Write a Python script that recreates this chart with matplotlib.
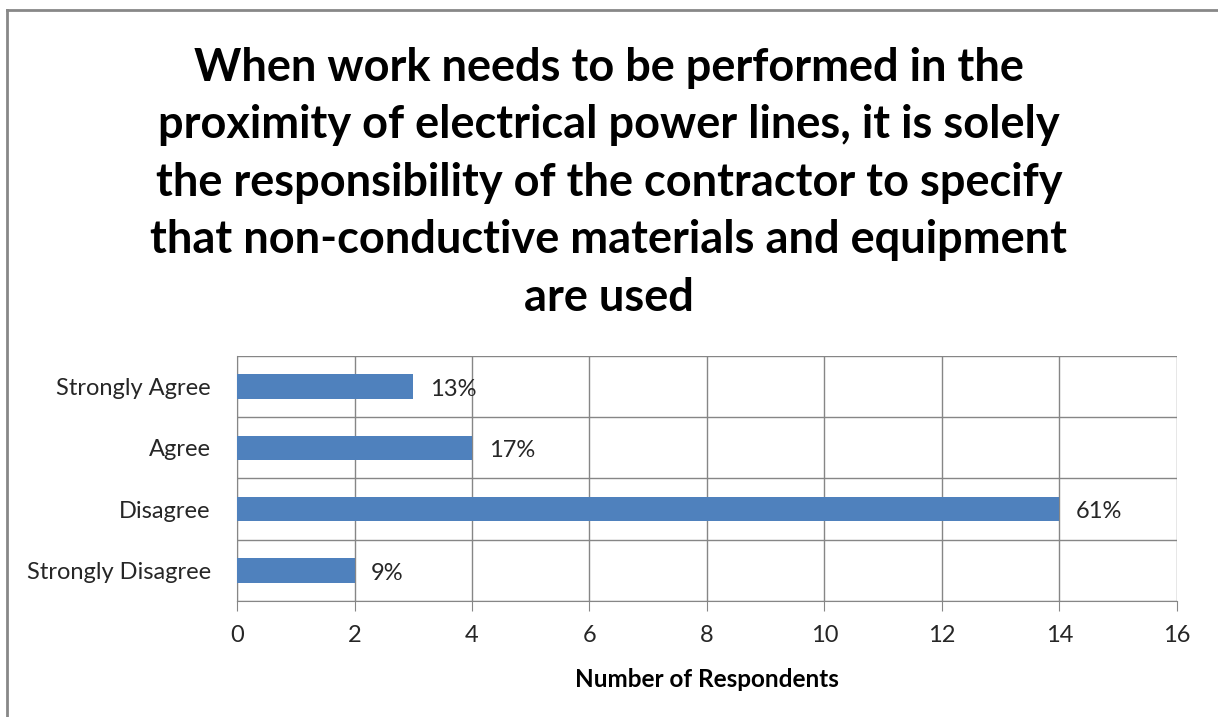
import matplotlib
matplotlib.use('Agg')
import matplotlib.pyplot as plt
from matplotlib.lines import Line2D

# survey answers, top to bottom as in the chart
categories = ['Strongly Agree', 'Agree', 'Disagree', 'Strongly Disagree']
counts = [3, 4, 14, 2]
pct_labels = ['13%', '17%', '61%', '9%']
xticks = [0, 2, 4, 6, 8, 10, 12, 14, 16]

title = ('When work needs to be performed in the\n'
         'proximity of electrical power lines, it is solely\n'
         'the responsibility of the contractor to specify\n'
         'that non-conductive materials and equipment\n'
         'are used')

plt.rcParams['font.family'] = ['Lato', 'DejaVu Sans']

fig = plt.figure(figsize=(12.18, 7.17), dpi=100)
ax = fig.add_axes([0.1946, 0.1618, 0.7717, 0.3417])

bar_col = '#4F81BD'
grid_col = '#868686'
pos = list(range(len(categories)))
ax.barh(pos, counts, height=0.4, color=bar_col, zorder=3)

# percent labels to the right of each bar
for p, c, lab in zip(pos, counts, pct_labels):
    ax.annotate(lab, (c, p), xytext=(12, -2), textcoords='offset points',
                ha='left', va='center', fontsize=17, color='#262626')

ax.set_xlim(0, 16)
ax.set_ylim(3.5, -0.5)
ax.set_xticks(xticks)
ax.set_yticks(pos)
ax.set_yticklabels(categories)
ax.set_yticks([-0.5, 0.5, 1.5, 2.5, 3.5], minor=True)
ax.grid(axis='x', color=grid_col, lw=1, zorder=0)
ax.grid(axis='y', which='minor', color=grid_col, lw=1, zorder=0)
ax.tick_params(axis='y', which='both', length=0, labelsize=17, labelcolor='#262626', pad=19)
ax.tick_params(axis='x', length=7, color=grid_col, labelsize=17, labelcolor='#262626', pad=10)
for s in ['top', 'right']:
    ax.spines[s].set_visible(False)
for s in ['left', 'bottom']:
    ax.spines[s].set_color(grid_col)

ax.set_xlabel('Number of Respondents', fontsize=17.5, fontweight='bold', labelpad=16)

fig.text(0.5, 0.745, title, ha='center', va='center', fontsize=32.5, fontweight='bold',
         linespacing=1.46)

# outer chart border (top and left visible)
fig.add_artist(Line2D([0.0057, 0.0057], [0.0, 0.986], color='#888888', lw=2, transform=fig.transFigure))
fig.add_artist(Line2D([0.0057, 1.0], [0.986, 0.986], color='#888888', lw=2, transform=fig.transFigure))

fig.savefig('out.png', dpi=100)
